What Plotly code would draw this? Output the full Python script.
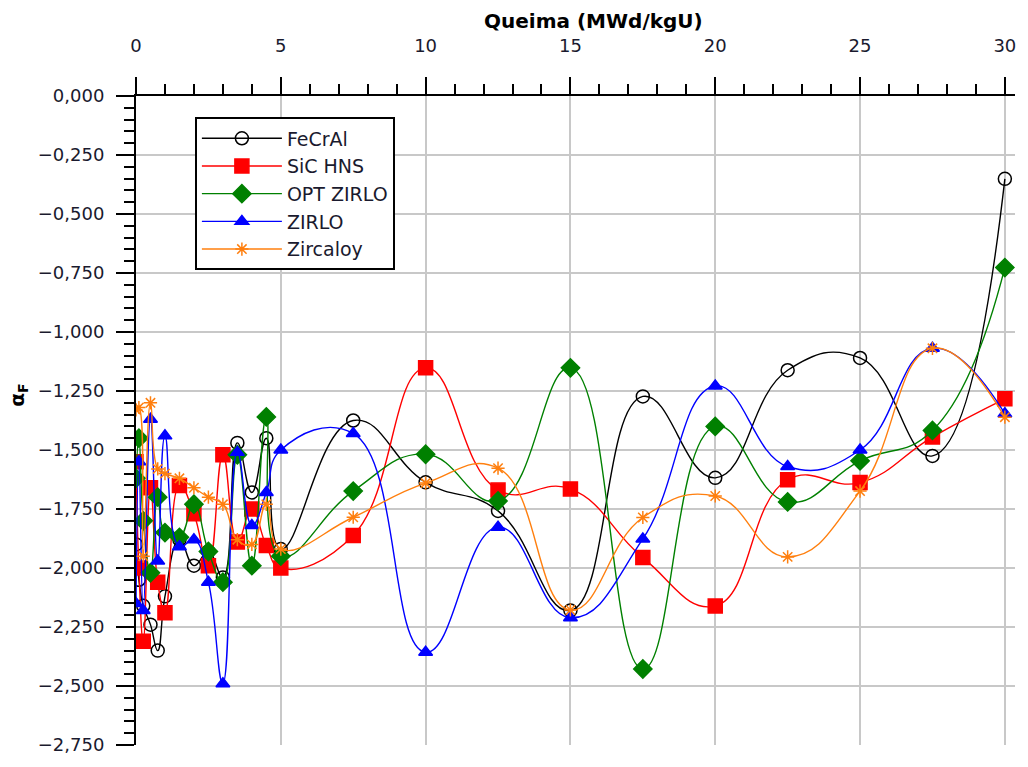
import plotly.graph_objects as go

# Burnup steps (MWd/kgU)
burnup = [0, 0.1, 0.25, 0.5, 0.75, 1.0, 1.5, 2.0, 2.5, 3.0, 3.5, 4.0, 4.5, 5.0,
          7.5, 10, 12.5, 15, 17.5, 20, 22.5, 25, 27.5, 30]

# Fuel temperature coefficient per cladding material
fecral = [-1.90, -2.05, -2.16, -2.24, -2.35, -2.12, -1.88, -1.99, -1.93, -2.04, -1.47, -1.68, -1.45, -1.92,
          -1.375, -1.637, -1.758, -2.18, -1.273, -1.618, -1.162, -1.110, -1.525, -0.351]
sic_hns = [-1.55, -2.00, -2.31, -1.66, -2.06, -2.19, -1.65, -1.77, -1.99, -1.52, -1.89, -1.75, -1.905, -2.00,
           -1.862, -1.152, -1.670, -1.665, -1.956, -2.161, -1.626, -1.638, -1.445, -1.283]
opt_zirlo = [-1.62, -1.45, -1.80, -2.02, -1.70, -1.85, -1.87, -1.73, -1.93, -2.06, -1.52, -1.99, -1.36, -1.95,
             -1.674, -1.518, -1.716, -1.152, -2.428, -1.400, -1.720, -1.546, -1.417, -0.727]
zirlo = [-2.15, -1.55, -2.18, -1.37, -1.97, -1.44, -1.91, -1.88, -2.06, -2.49, -1.51, -1.82, -1.68, -1.50,
         -1.43, -2.357, -1.827, -2.211, -1.877, -1.229, -1.570, -1.50, -1.069, -1.346]
zircaloy = [-1.33, -1.32, -1.95, -1.30, -1.58, -1.60, -1.62, -1.66, -1.70, -1.73, -1.88, -1.90, -1.73, -1.92,
            -1.785, -1.64, -1.577, -2.178, -1.786, -1.695, -1.953, -1.674, -1.069, -1.361]

series = [
    ("FeCrAl", fecral, "#000000", "circle-open", 13),
    ("SiC HNS", sic_hns, "#ff0000", "square", 14),
    ("OPT ZIRLO", opt_zirlo, "#008000", "diamond", 14),
    ("ZIRLO", zirlo, "#0000ff", "triangle-up", 12),
    ("Zircaloy", zircaloy, "#ff7f0e", "asterisk-open", 11),
]

FONT = "DejaVu Sans"

fig = go.Figure()
for name, vals, color, symbol, size in series:
    fig.add_trace(go.Scatter(
        x=burnup, y=vals, name=name, mode="lines+markers",
        line=dict(color=color, width=1.4, shape="spline", smoothing=1.3),
        marker=dict(symbol=symbol, size=size, color=color,
                    line=dict(color=color, width=1.5)),
    ))

fig.update_layout(
    width=1028, height=767,
    margin=dict(l=136, r=13, t=96, b=13),
    paper_bgcolor="white", plot_bgcolor="white",
    separators=",.",
    font=dict(family=FONT, size=18, color="#1a1a2e"),
    showlegend=True,
    legend=dict(
        x=0.067, y=0.967, xanchor="left", yanchor="top",
        bordercolor="#000000", borderwidth=2, bgcolor="white",
        font=dict(family=FONT, size=19, color="#1a1a2e"),
        itemwidth=80, tracegroupgap=0,
    ),
    xaxis=dict(
        side="top", range=[0, 30.35], tick0=0, dtick=5,
        showline=True, linecolor="#000000", linewidth=2,
        ticks="outside", ticklen=17, tickwidth=2, tickcolor="#000000",
        ticklabelstandoff=18,
        minor=dict(ticks="outside", ticklen=10, tickwidth=2, tickcolor="#000000", dtick=1, showgrid=False),
        showgrid=True, gridcolor="#c8c8c8", gridwidth=2,
        zeroline=False,
    ),
    yaxis=dict(
        range=[-2.75, 0], tick0=0, dtick=0.25, tickformat=".3f",
        showline=True, linecolor="#000000", linewidth=2,
        ticks="outside", ticklen=18, tickwidth=2, tickcolor="#000000",
        ticklabelstandoff=8,
        minor=dict(ticks="outside", ticklen=10, tickwidth=2, tickcolor="#000000", dtick=0.05, showgrid=False),
        showgrid=True, gridcolor="#c8c8c8", gridwidth=2,
        zeroline=False,
    ),
    annotations=[
        dict(text="<b>Queima (MWd/kgU)</b>", xref="paper", yref="paper",
             x=0.521, y=1.1155, xanchor="center", yanchor="middle", showarrow=False,
             font=dict(family=FONT, size=20, color="#000000")),
        dict(text="<b>α<sub>F</sub></b>", xref="paper", yref="paper",
             x=(18 - 136) / 879, y=(754 - 400) / 658, xanchor="center", yanchor="middle",
             showarrow=False, textangle=-90,
             font=dict(family=FONT, size=20, color="#000000")),
    ],
)

fig.write_html("out.html")
